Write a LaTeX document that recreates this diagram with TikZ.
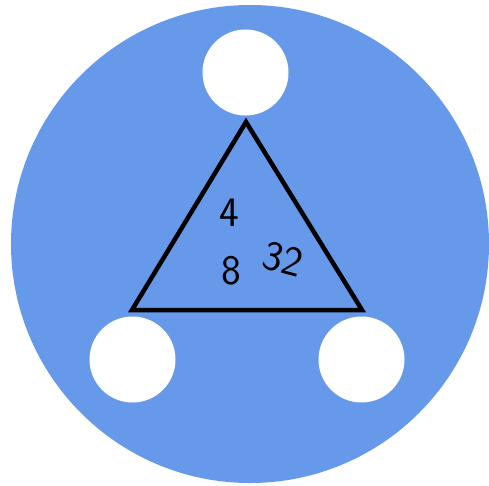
\documentclass[tikz,border=0pt]{standalone}
\usepackage{tikz}

\definecolor{discblue}{RGB}{102,153,234}

\begin{document}
\begin{tikzpicture}[x=1pt, y=-1pt,
    slot/.style={circle, fill=white, minimum size=86pt, inner sep=0pt},
    digit/.style={font=\sffamily\fontsize{42}{42}\selectfont, inner sep=0pt}]
            \useasboundingbox (0,0) rectangle (489,485);
            \fill[discblue] (250,244) circle (239);

            \coordinate (T) at (246,122);
            \coordinate (L) at (132,310);
            \coordinate (R) at (362,310);

            \draw[line width=4.5pt, line join=miter] (T) -- (L) -- (R) -- cycle;

            \node[slot] (top) at (245.5,72.5) {};
            \node[slot] (left) at (132.5,359.5) {};
            \node[slot] (right) at (361.5,359.5) {};

            \node[digit] (four) at (229,213) {4};
            \node[digit] (eight) at (231,271) {8};
            \node[digit, rotate=-15] (thirtytwo) at (283,259) {32};
        \end{tikzpicture}
\end{document}
